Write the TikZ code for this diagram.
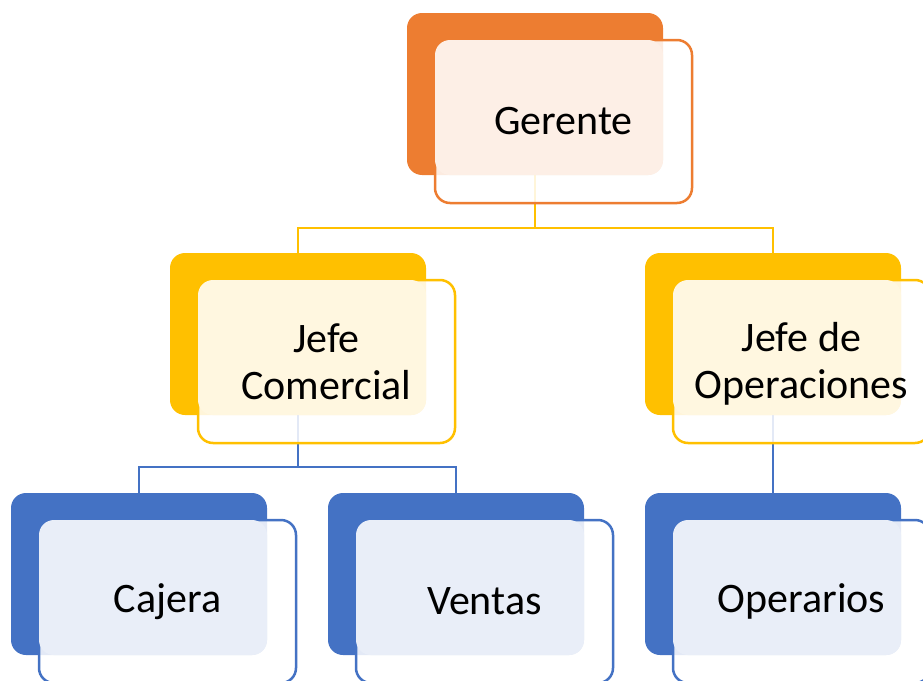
\documentclass[tikz,border=0pt]{standalone}
\usepackage{fontspec}
\setmainfont{Carlito}
\usetikzlibrary{positioning,calc}

\definecolor{orgorange}{HTML}{ED7D31}
\definecolor{orgyellow}{HTML}{FFC000}
\definecolor{orgblue}{HTML}{4472C4}

\begin{document}
\begin{tikzpicture}[x=1pt,y=-1pt,
  boxback/.style ={rectangle,rounded corners=15pt,minimum width=256pt,
                   minimum height=162pt,inner sep=0pt,outer sep=0pt,fill=#1},
  boxfront/.style={rectangle,rounded corners=15pt,minimum width=257pt,
                   minimum height=163pt,inner sep=0pt,outer sep=0pt,
                   draw=#1,line width=2.5pt,fill=white,fill opacity=.85},
  boxtint/.style ={fill=#1!12,rounded corners=15pt},
  boxtext/.style ={font=\fontsize{42}{47}\selectfont,align=center,text=black},
  link/.style    ={draw=#1,line width=2.5pt}]
  \useasboundingbox (0,0) rectangle (923,680);
  \pgfmathsetmacro{\dx}{28.5}
  \pgfmathsetmacro{\dy}{27.5}

  %% solid back boxes
  %% ------------------------------------
  \node[boxback=orgorange] (gerB) at (535,94)  {};
  \node[boxback=orgyellow] (comB) at (298,334) {};
  \node[boxback=orgyellow] (opsB) at (773,334) {};
  \node[boxback=orgblue]   (cajB) at (139,574) {};
  \node[boxback=orgblue]   (venB) at (456,574) {};
  \node[boxback=orgblue]   (opeB) at (773,574) {};

  %% connectors
  %% ------------------------------------
  \draw[link=orgyellow] (gerB.south) -- ++(0,53) -| (comB.north);
  \draw[link=orgyellow] (gerB.south) -- ++(0,53) -| (opsB.north);
  \draw[link=orgblue]   (comB.south) -- ++(0,52) -| (cajB.north);
  \draw[link=orgblue]   (comB.south) -- ++(0,52) -| (venB.north);
  \draw[link=orgblue]   (opsB.south) -- (opeB.north);

  %% outlined front boxes
  %% ------------------------------------
  \node[boxfront=orgorange] (gerF) at ($(gerB)+(\dx,\dy)$) {};
  \node[boxfront=orgyellow] (comF) at ($(comB)+(\dx,\dy)$) {};
  \node[boxfront=orgyellow] (opsF) at ($(opsB)+(\dx,\dy)$) {};
  \node[boxfront=orgblue]   (cajF) at ($(cajB)+(\dx,\dy)$) {};
  \node[boxfront=orgblue]   (venF) at ($(venB)+(\dx,\dy)$) {};
  \node[boxfront=orgblue]   (opeF) at ($(opeB)+(\dx,\dy)$) {};

  %% light overlap
  \fill[boxtint=orgorange] (gerF.north west) rectangle (gerB.south east);
  \fill[boxtint=orgyellow] (comF.north west) rectangle (comB.south east);
  \fill[boxtint=orgyellow] (opsF.north west) rectangle (opsB.south east);
  \fill[boxtint=orgblue]   (cajF.north west) rectangle (cajB.south east);
  \fill[boxtint=orgblue]   (venF.north west) rectangle (venB.south east);
  \fill[boxtint=orgblue]   (opeF.north west) rectangle (opeB.south east);

  %% labels
  %% ------------------------------------
  \node[boxtext] (ger) at (gerF) {Gerente};
  \node[boxtext] (com) at (comF) {Jefe\\Comercial};
  \node[boxtext] (ops) at ($(opsF)+(0,2)$) {Jefe de\\Operaciones};
  \node[boxtext] (caj) at (cajF) {Cajera};
  \node[boxtext] (ven) at (venF) {Ventas};
  \node[boxtext] (ope) at (opeF) {Operarios};
\end{tikzpicture}
\end{document}
